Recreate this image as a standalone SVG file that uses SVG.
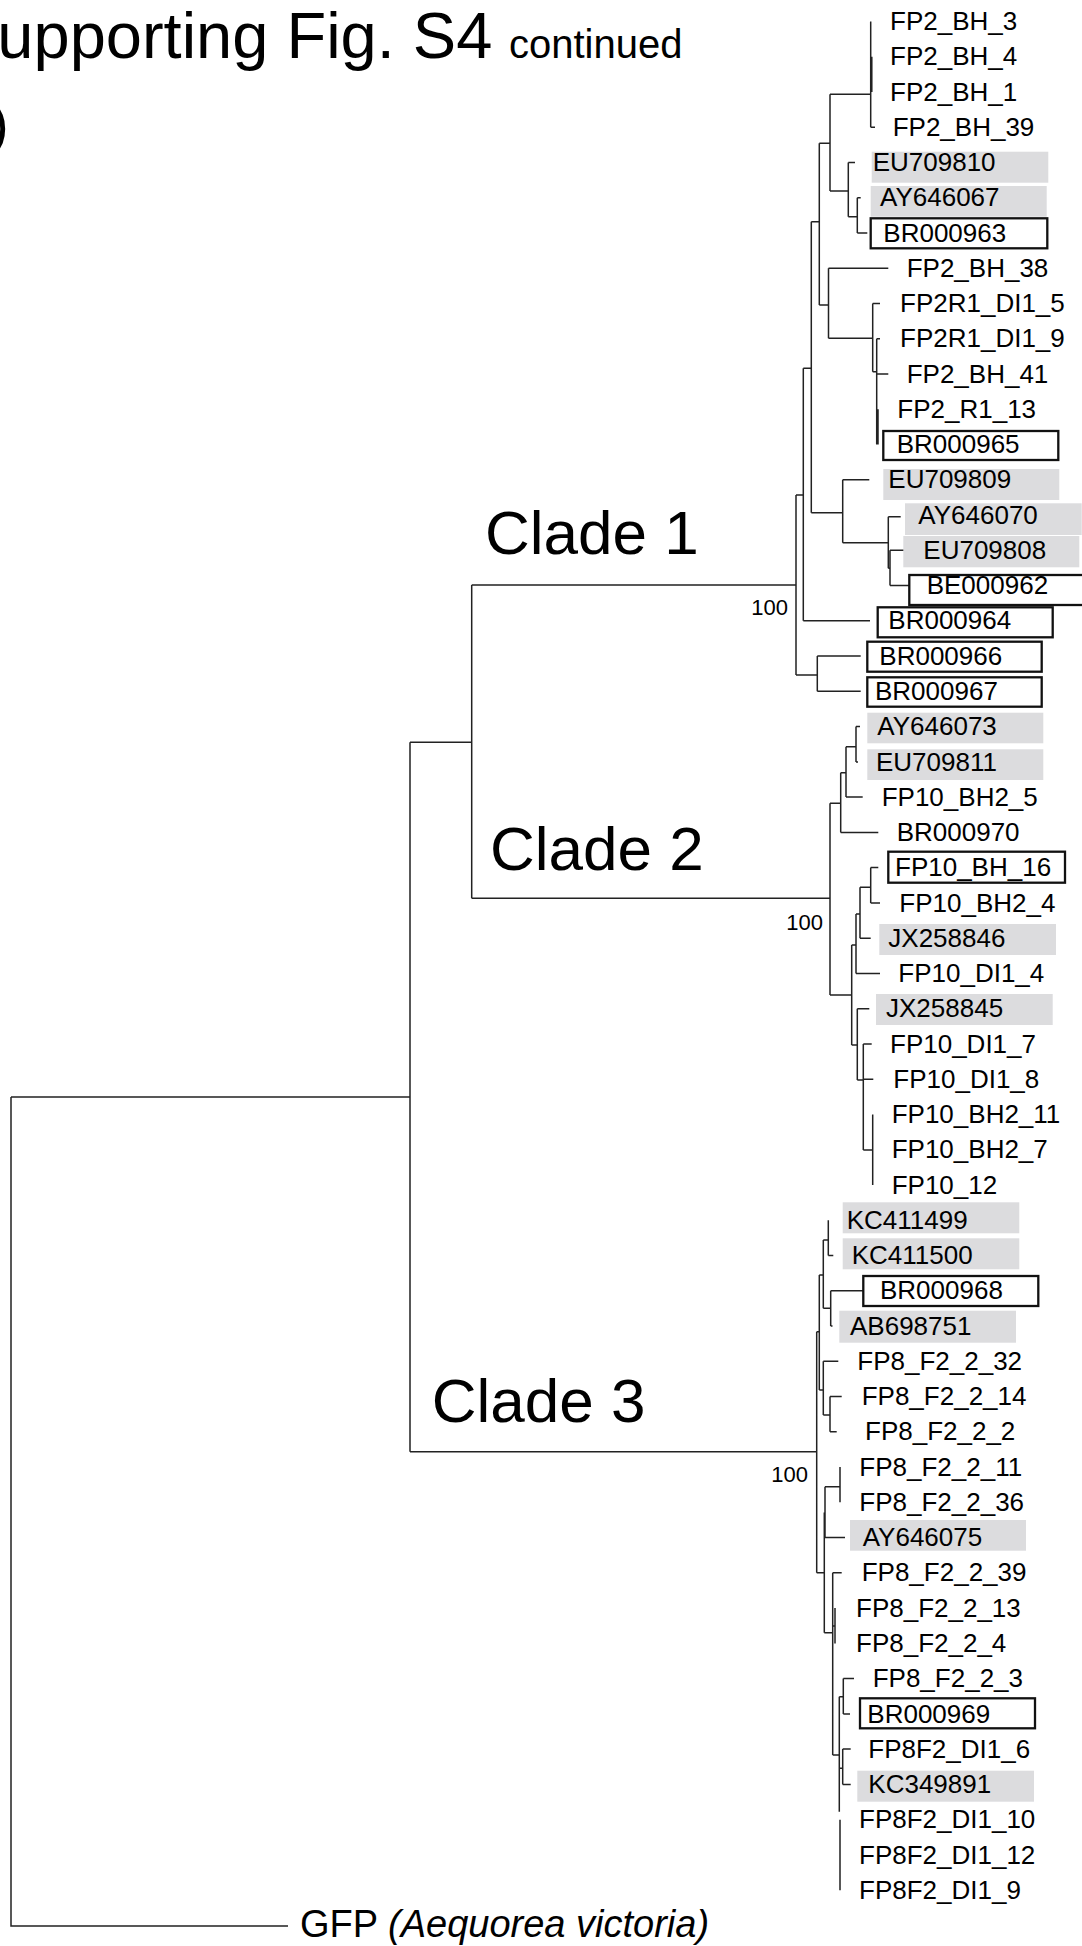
<svg xmlns="http://www.w3.org/2000/svg" width="1082" height="1946" viewBox="0 0 1082 1946">
<style>
text{font-family:"Liberation Sans",Arial,sans-serif;fill:#000}
.lf{font-size:26px}
.cl{font-size:62px}
.bs{font-size:22px;text-anchor:end}
.g{fill:#dcdcde;stroke:none}
.b{fill:none;stroke:#111;stroke-width:2.3}
.t{fill:none;stroke:#222;stroke-width:1.5}
</style>
<rect width="1082" height="1946" fill="#fff"/>
<g id="title">
<text x="-46" y="58" font-size="65">Supporting Fig. S4</text>
<text x="509" y="58" font-size="40">continued</text>
<text x="-10" y="143" font-size="56">)</text>
</g>
<g id="connectors" class="t">
<path d="M11 1097V1926H288M11 1097H410M410 742.3V1451.7M410 742.3H471.7M471.7 585V898.3M471.7 585H796M471.7 898.3H830M410 1451.7H816.7"/>
<path d="M796 495V675M796 495H803.3M796 675H817.3M817.3 656.1V691.3M817.3 656.1H860.7M817.3 691.3H860.7M803.3 368.3V620.8M803.3 620.8H870M803.3 368.3H811.3M811.3 221.7V512.7M811.3 221.7H819.3M819.3 143.3V305M819.3 143.3H830M830 94.3V191M830 94.3H870.7M870.7 21.4V127.2M871.8 56.7V91.9M870.7 127.2H875M830 191H848.3M848.3 162.4V216.7M848.3 162.4H855M848.3 216.7H857.3M857.3 197.7V233M857.3 197.7H860.7M857.3 233H867.3M819.3 305H828.5M828.5 268.2V338.3M828.5 268.2H888.3M828.5 338.3H872.7M872.7 303.5V371.7M872.7 303.5H880M872.7 371.7H876.7M876.7 338.7V444.5M876.7 338.7H880M876.7 374H888.3M878 409.3V444.5M811.3 512.7H842.7M842.7 479.8V542.7M842.7 479.8H869.3M842.7 542.7H888.3M888.3 516.7V568.3M888.3 516.7H900.7M888.3 568.3H890M890 550.3V585.6M890 550.3H905M890 585.6H909.3"/>
<path d="M830 803.3V995M830 803.3H840.7M840.7 772.7V832.4M840.7 832.4H878.3M840.7 772.7H846M846 746.7V797.1M846 797.1H862.7M846 746.7H856M856 726.6V761.9M856 726.6H860M856 761.9H858M830 995H851.7M851.7 945V1045M851.7 945H856M856 914V973.4M856 973.4H880M856 914H860M860 887.3V938.2M860 938.2H870.7M860 887.3H870.7M870.7 867.6V902.9M870.7 867.6H878.3M870.7 902.9H880M851.7 1045H857.3M857.3 1008.7V1080M857.3 1008.7H869.3M857.3 1080H863.3M863.3 1043.9V1150M863.3 1043.9H871.7M863.3 1079.2H873.3M863.3 1150H872.7M872.7 1114.5V1185"/>
<path d="M816.7 1331.7V1572.8M816.7 1331.7H819.3M819.3 1275V1390M819.3 1275H823.3M823.3 1240V1308.3M823.3 1240H828.3M828.3 1220.2V1255.5M828.3 1255.5H833.3M823.3 1308.3H830.7M830.7 1290.8V1326M830.7 1290.8H863.3M830.7 1326H832.5M819.3 1390H823.3M823.3 1361.3V1415M823.3 1361.3H838.3M823.3 1415H830M830 1396.5V1431.8M830 1396.5H841.7M830 1431.8H836.7M816.7 1572.8H824.3M824.3 1512.5V1632.7M825 1486.7V1537.6M825 1486.7H840M840 1467.1V1502.3M825 1537.6H845M824.3 1632.7H832.7M832.7 1572.8V1755M832.7 1572.8H841.7M835 1608.1V1643.4M832.7 1626H835M832.7 1755H839.3M839.3 1696.7V1811.7M839.3 1696.7H843.3M843.3 1678.6V1713.9M843.3 1678.6H854M843.3 1713.9H850M839.3 1768.3H842.7M842.7 1749.1V1784.4M842.7 1749.1H850.7M842.7 1784.4H850.7M840 1819.7V1890.2"/>
</g>
<g id="clade-labels">
<text class="cl" x="485" y="554">Clade 1</text>
<text class="cl" x="490" y="870">Clade 2</text>
<text class="cl" x="431.7" y="1421.7">Clade 3</text>
<text class="bs" x="788" y="615">100</text>
<text class="bs" x="823" y="930">100</text>
<text class="bs" x="808" y="1482">100</text>
</g>
<g id="leaves">
<g id="n0"><text class="lf" x="890" y="30">FP2_BH_3</text></g>
<g id="n1"><text class="lf" x="890" y="65.3">FP2_BH_4</text></g>
<g id="n2"><text class="lf" x="890" y="100.5">FP2_BH_1</text></g>
<g id="n3"><text class="lf" x="892.7" y="135.8">FP2_BH_39</text></g>
<g id="n4"><rect class="g" x="871.7" y="151.7" width="176.6" height="31"/><text class="lf" x="872.7" y="171">EU709810</text></g>
<g id="n5"><rect class="g" x="870.7" y="186" width="176" height="30.7"/><text class="lf" x="880" y="206.3">AY646067</text></g>
<g id="n6"><rect class="b" x="870.7" y="218.3" width="176.6" height="30"/><text class="lf" x="883.3" y="241.6">BR000963</text></g>
<g id="n7"><text class="lf" x="906.7" y="276.8">FP2_BH_38</text></g>
<g id="n8"><text class="lf" x="900" y="312.1">FP2R1_DI1_5</text></g>
<g id="n9"><text class="lf" x="900" y="347.3">FP2R1_DI1_9</text></g>
<g id="n10"><text class="lf" x="906.7" y="382.6">FP2_BH_41</text></g>
<g id="n11"><text class="lf" x="897.3" y="417.9">FP2_R1_13</text></g>
<g id="n12"><rect class="b" x="883.3" y="431" width="175" height="29"/><text class="lf" x="896.7" y="453.1">BR000965</text></g>
<g id="n13"><rect class="g" x="883.3" y="469" width="176" height="31"/><text class="lf" x="888.3" y="488.4">EU709809</text></g>
<g id="n14"><rect class="g" x="905" y="503.3" width="176.7" height="31.7"/><text class="lf" x="918.3" y="523.6">AY646070</text></g>
<g id="n15"><rect class="g" x="903.3" y="536" width="176" height="31.3"/><text class="lf" x="923.3" y="558.9">EU709808</text></g>
<g id="n16"><rect class="b" x="909.3" y="575" width="175" height="30"/><text class="lf" x="926.7" y="594.2">BE000962</text></g>
<g id="n17"><rect class="b" x="877.7" y="607.3" width="175" height="30"/><text class="lf" x="888.3" y="629.4">BR000964</text></g>
<g id="n18"><rect class="b" x="867.3" y="641.7" width="174.4" height="30"/><text class="lf" x="879.3" y="664.7">BR000966</text></g>
<g id="n19"><rect class="b" x="867.3" y="677.3" width="174.4" height="29.4"/><text class="lf" x="875" y="699.9">BR000967</text></g>
<g id="n20"><rect class="g" x="867.3" y="712.7" width="176" height="30.6"/><text class="lf" x="877.3" y="735.2">AY646073</text></g>
<g id="n21"><rect class="g" x="867.3" y="749.3" width="176" height="30.7"/><text class="lf" x="876" y="770.5">EU709811</text></g>
<g id="n22"><text class="lf" x="881.7" y="805.7">FP10_BH2_5</text></g>
<g id="n23"><text class="lf" x="896.7" y="841">BR000970</text></g>
<g id="n24"><rect class="b" x="888.3" y="851.7" width="176.7" height="31"/><text class="lf" x="895" y="876.2">FP10_BH_16</text></g>
<g id="n25"><text class="lf" x="899.3" y="911.5">FP10_BH2_4</text></g>
<g id="n26"><rect class="g" x="879.3" y="924" width="176.7" height="31"/><text class="lf" x="888.3" y="946.8">JX258846</text></g>
<g id="n27"><text class="lf" x="898.3" y="982">FP10_DI1_4</text></g>
<g id="n28"><rect class="g" x="876" y="994" width="176.7" height="31"/><text class="lf" x="886" y="1017.3">JX258845</text></g>
<g id="n29"><text class="lf" x="890" y="1052.5">FP10_DI1_7</text></g>
<g id="n30"><text class="lf" x="893.3" y="1087.8">FP10_DI1_8</text></g>
<g id="n31"><text class="lf" x="891.7" y="1123.1">FP10_BH2_11</text></g>
<g id="n32"><text class="lf" x="891.7" y="1158.3">FP10_BH2_7</text></g>
<g id="n33"><text class="lf" x="891.7" y="1193.6">FP10_12</text></g>
<g id="n34"><rect class="g" x="842.7" y="1202.3" width="176.6" height="31"/><text class="lf" x="846.7" y="1228.8">KC411499</text></g>
<g id="n35"><rect class="g" x="842.7" y="1238.3" width="176.6" height="31"/><text class="lf" x="851.7" y="1264.1">KC411500</text></g>
<g id="n36"><rect class="b" x="863.3" y="1276" width="175" height="30"/><text class="lf" x="880" y="1299.4">BR000968</text></g>
<g id="n37"><rect class="g" x="839.3" y="1310.7" width="176.7" height="32"/><text class="lf" x="850" y="1334.6">AB698751</text></g>
<g id="n38"><text class="lf" x="857.3" y="1369.9">FP8_F2_2_32</text></g>
<g id="n39"><text class="lf" x="861.7" y="1405.1">FP8_F2_2_14</text></g>
<g id="n40"><text class="lf" x="865" y="1440.4">FP8_F2_2_2</text></g>
<g id="n41"><text class="lf" x="859.3" y="1475.7">FP8_F2_2_11</text></g>
<g id="n42"><text class="lf" x="859.3" y="1510.9">FP8_F2_2_36</text></g>
<g id="n43"><rect class="g" x="850" y="1520" width="176" height="30.7"/><text class="lf" x="862.7" y="1546.2">AY646075</text></g>
<g id="n44"><text class="lf" x="861.7" y="1581.4">FP8_F2_2_39</text></g>
<g id="n45"><text class="lf" x="856" y="1616.7">FP8_F2_2_13</text></g>
<g id="n46"><text class="lf" x="856" y="1652">FP8_F2_2_4</text></g>
<g id="n47"><text class="lf" x="872.7" y="1687.2">FP8_F2_2_3</text></g>
<g id="n48"><rect class="b" x="860" y="1698.3" width="175" height="30"/><text class="lf" x="867.3" y="1722.5">BR000969</text></g>
<g id="n49"><text class="lf" x="868.3" y="1757.7">FP8F2_DI1_6</text></g>
<g id="n50"><rect class="g" x="857.3" y="1770.7" width="176.7" height="31"/><text class="lf" x="868.3" y="1793">KC349891</text></g>
<g id="n51"><text class="lf" x="859" y="1828.3">FP8F2_DI1_10</text></g>
<g id="n52"><text class="lf" x="859" y="1863.5">FP8F2_DI1_12</text></g>
<g id="n53"><text class="lf" x="859" y="1898.8">FP8F2_DI1_9</text></g>
<g id="gfp"><text x="300" y="1937" font-size="38">GFP <tspan font-style="italic">(Aequorea victoria)</tspan></text></g>
</g>
</svg>
